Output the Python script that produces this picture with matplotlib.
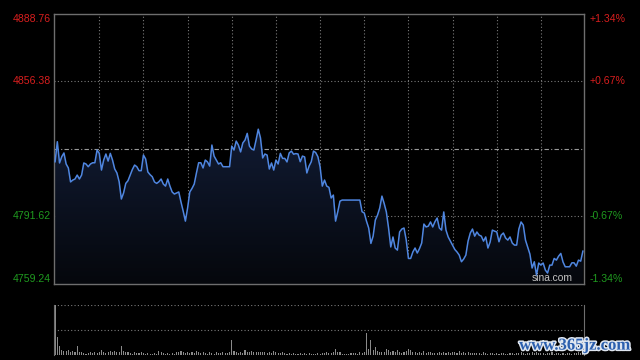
import numpy as np
import matplotlib
matplotlib.use('Agg')
import matplotlib.pyplot as plt
import matplotlib.transforms as mtransforms
import matplotlib.patheffects as pe
from matplotlib.colors import LinearSegmentedColormap

# ─── Data ─────────────────────────────────────────────────────────────────────
prev_close = 4824.00
y_low, y_high = 4759.24, 4888.76

prices = [
    4817.9, 4827.5, 4817.3, 4820.3, 4822.1, 4816.8, 4814.9, 4808.2, 4809.1, 4809.6,
    4811.5, 4809.6, 4811.5, 4817.3, 4816.8, 4815.5, 4816.8, 4817.4, 4817.4, 4823.5,
    4821.9, 4813.9, 4818.7, 4821.6, 4818.2, 4821.9, 4818.7, 4814.4, 4812.5, 4808.3,
    4800.0, 4802.9, 4807.5, 4808.8, 4811.5, 4814.2, 4816.3, 4815.5, 4813.6, 4813.6,
    4821.1, 4819.2, 4813.0, 4811.7, 4810.7, 4808.2, 4807.5, 4808.3, 4809.6, 4807.2,
    4806.2, 4809.6, 4806.2, 4803.4, 4802.4, 4802.9, 4803.4, 4798.6, 4794.2, 4789.4,
    4795.7, 4803.4, 4805.1, 4807.2, 4812.5, 4817.4, 4817.4, 4814.9, 4818.7, 4817.8,
    4815.8, 4825.9, 4820.6, 4818.7, 4816.8, 4817.4, 4815.5, 4815.5, 4815.5, 4815.5,
    4825.4, 4823.5, 4827.8, 4825.9, 4822.6, 4826.9, 4828.3, 4831.5, 4825.4, 4824.0,
    4823.5, 4828.3, 4833.5, 4829.3, 4819.7, 4821.6, 4821.1, 4814.4, 4817.3, 4813.9,
    4818.7, 4816.8, 4821.9, 4819.5, 4819.5, 4817.8, 4822.1, 4823.0, 4821.5, 4821.8,
    4821.6, 4817.9, 4820.6, 4820.2, 4812.5, 4815.8, 4817.9, 4823.0, 4822.3, 4820.3,
    4815.4, 4806.2, 4809.1, 4806.2, 4805.6, 4800.5, 4801.9, 4789.4, 4793.9, 4799.0,
    4799.5, 4799.5, 4799.5, 4799.5, 4799.5, 4799.5, 4799.5, 4799.5, 4799.5, 4793.9,
    4793.3, 4789.4, 4786.1, 4778.7, 4782.2, 4789.9, 4792.3, 4795.7, 4801.4, 4797.9,
    4793.8, 4786.1, 4777.0, 4781.8, 4776.5, 4775.5, 4784.2, 4785.6, 4786.1, 4780.3,
    4771.5, 4771.5, 4774.6, 4776.5, 4774.1, 4776.2, 4778.9, 4788.0, 4786.6, 4787.0,
    4789.0, 4786.6, 4789.1, 4790.9, 4786.1, 4785.1, 4793.8, 4785.1, 4781.8, 4779.8,
    4777.9, 4775.8, 4774.6, 4773.1, 4769.9, 4771.2, 4773.1, 4779.8, 4783.7, 4785.6,
    4782.2, 4784.2, 4782.7, 4782.2, 4779.8, 4781.8, 4776.5, 4779.4, 4785.1, 4784.6,
    4784.2, 4779.5, 4782.7, 4783.7, 4781.3, 4780.3, 4781.8, 4778.9, 4777.9, 4777.9,
    4785.6, 4789.0, 4787.5, 4780.3, 4777.0, 4773.6, 4766.9, 4769.9, 4763.5, 4769.3,
    4768.3, 4769.3, 4765.9, 4764.5, 4768.3, 4768.3, 4771.5, 4770.7, 4772.6, 4773.9,
    4769.8, 4767.5, 4767.5, 4767.5, 4769.4, 4769.4, 4767.8, 4770.7, 4770.2, 4775.0,
]

volumes = [
    62, 17.7, 9.3, 5, 4.3, 3.7, 5, 2.7, 4.3, 2.7,
    9.3, 3.3, 3.3, 2, 1.3, 2, 3, 2, 2.7, 2,
    2.7, 5, 2.7, 2, 3, 4.3, 2.7, 4, 3.3, 2.7,
    9.3, 4.3, 3, 2.7, 2, 1.3, 3.3, 2, 1.7, 3,
    1.7, 1.3, 2, 1, 1.3, 2, 1.3, 4.3, 3.3, 1.7,
    1.3, 2.3, 1, 1.7, 1.3, 3.3, 2.7, 4.3, 2.7, 1.7,
    3.3, 2.3, 2.7, 1.7, 4.3, 2.7, 1.7, 3.3, 2.3, 1.3,
    2.7, 2, 1.3, 2.7, 2, 2.3, 3, 2.3, 1.7, 2.7,
    15.3, 4.3, 2.7, 1.7, 3.3, 2.3, 5, 3.3, 2.7, 4.3,
    2.7, 3, 3.3, 2.7, 2.7, 3.3, 2.3, 2.7, 1.7, 4.3,
    2.7, 2, 1.7, 3.3, 2, 1.3, 1.7, 1.3, 1.7, 1,
    1.3, 1.7, 1, 2, 1.3, 1.7, 1, 1, 1.3, 1.7,
    1, 1.7, 2, 2.7, 1.7, 2.3, 3.3, 6, 3.3, 2.7,
    1, 1.3, 1, 1.3, 2, 1.7, 2.3, 1.3, 3.3, 2,
    3.3, 22, 6, 15, 5, 8, 4, 3.3, 3, 2.7,
    6, 5, 3.3, 4.3, 3.3, 5, 2.7, 2, 3.3, 4,
    6, 5, 3.3, 2.7, 2, 3, 1.7, 4.3, 2, 3.3,
    2.7, 2, 1.7, 2.3, 3.3, 2, 2.7, 1.7, 3, 2.3,
    3.3, 2.7, 2, 4, 2.3, 2.7, 1.7, 3.3, 2, 1.7,
    2.3, 1.7, 2, 1.3, 2.7, 2, 1.3, 1.7, 2, 1.3,
    1.7, 1.3, 2.3, 1.7, 1, 1.3, 2, 1.7, 1.3, 2.3,
    1.7, 2.7, 2, 1.3, 1.7, 2, 3.3, 2.3, 3.3, 2,
    1.7, 2.3, 1.3, 2, 1.7, 2.7, 1.3, 2, 1.7, 1.3,
    2, 1.3, 1.7, 2.3, 1.3, 1.7, 2, 2.7, 1.7, 2.3,
]

minutes = np.arange(len(prices))
left_levels = [4888.76, 4856.38, 4791.62, 4759.24]
right_labels = ['+1.34%', '+0.67%', '-0.67%', '-1.34%']

# ─── Style ────────────────────────────────────────────────────────────────────
BG = '#000000'
BORDER = '#6e6e6e'
GRID = '#7a7a7a'
LINE = '#4f86e0'
RED = '#d81e1e'
GREEN = '#1f9a1f'
plt.rcParams['font.family'] = ['Liberation Sans', 'DejaVu Sans']

fig = plt.figure(figsize=(6.4, 3.6), dpi=100, facecolor=BG)
ax = fig.add_axes([54 / 640, 76 / 360, 530 / 640, 270 / 360], facecolor=BG)
axv = fig.add_axes([54 / 640, 5 / 360, 530 / 640, 50 / 360], facecolor=BG)

xlim = (-0.5, 239.5)

# ─── Price panel ──────────────────────────────────────────────────────────────
ax.set_xlim(*xlim)
ax.set_ylim(y_low, y_high)

for m in range(20, 240, 20):
    ax.axvline(m, color=GRID, lw=0.8, ls=(0, (1, 2)), zorder=1)
for lv in (left_levels[1], left_levels[2]):
    ax.axhline(lv, color=GRID, lw=0.8, ls=(0, (1, 2)), zorder=1)
ax.axhline(prev_close, color='#9a9a9a', lw=0.8, ls=(0, (4, 2, 1, 2)), zorder=1)

# gradient fill under the line
fill = ax.fill_between(minutes, prices, y_low, facecolor='none', edgecolor='none')
cmap = LinearSegmentedColormap.from_list('navy', ['#05070c', '#111b33'])
grad = ax.imshow(np.linspace(0, 1, 256).reshape(-1, 1), cmap=cmap, aspect='auto',
                 origin='lower', extent=[xlim[0], xlim[1], y_low, max(prices)], zorder=2)
grad.set_clip_path(fill.get_paths()[0], transform=ax.transData)
ax.set_ylim(y_low, y_high)

ax.plot(minutes, prices, color=LINE, lw=1.1, zorder=3)

ax.set_xticks([])
ax.set_yticks([])
for spine in ax.spines.values():
    spine.set_color(BORDER)
    spine.set_linewidth(1.0)

trans_l = mtransforms.blended_transform_factory(ax.transAxes, ax.transData)
vas = ['top', 'center', 'center', 'bottom']
for i, (lv, va) in enumerate(zip(left_levels, vas)):
    col = RED if lv > prev_close else GREEN
    off = -2.5 if va == 'top' else (2.5 if va == 'bottom' else 0)
    ax.text(-0.006, lv + off, f'{lv:.2f}', transform=trans_l, ha='right', va='center',
            fontsize=7.6, color=col)
    ax.text(1.011, lv + off, right_labels[i], transform=trans_l, ha='left', va='center',
            fontsize=7.6, color=col)

ax.text(0.94, 0.022, 'sina.com', transform=ax.transAxes, ha='center', va='center',
        fontsize=7.4, color='#c4c4c4', zorder=4)

# ─── Volume panel ─────────────────────────────────────────────────────────────
axv.set_xlim(*xlim)
axv.set_ylim(0, 50)
axv.bar(minutes, volumes, width=0.5, color='#8a8a8a', linewidth=0, zorder=2)
for lv in (25, 50, 0):
    axv.axhline(lv, color=GRID, lw=0.8, ls=(0, (1, 2)), zorder=1)
axv.set_xticks([])
axv.set_yticks([])
for side in ('top', 'bottom'):
    axv.spines[side].set_visible(False)
for side in ('left', 'right'):
    axv.spines[side].set_color(BORDER)

fig.text(0.898, 0.040, 'www.365jz.com', ha='center', va='center', fontsize=12,
         family=['Liberation Serif', 'DejaVu Serif'], weight='bold', color='#2b5fae',
         path_effects=[pe.withStroke(linewidth=2.2, foreground='#dfe6f0')])

fig.savefig('out.png', dpi=100, facecolor=BG)
